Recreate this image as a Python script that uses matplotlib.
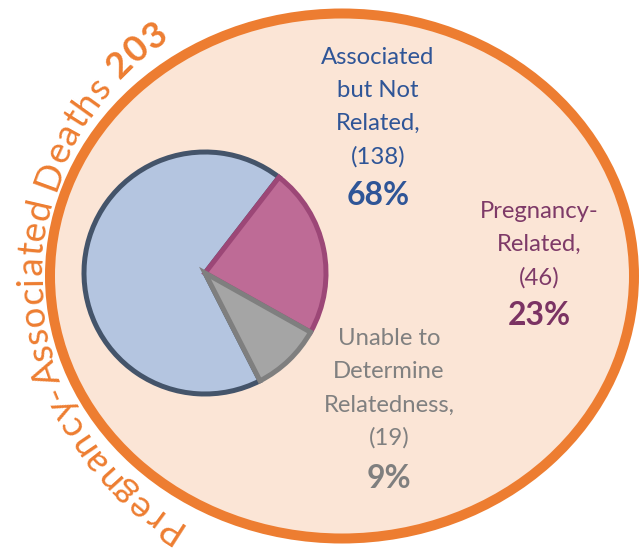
import numpy as np
import matplotlib
matplotlib.use("Agg")
import matplotlib.pyplot as plt
from matplotlib.patches import Ellipse
from matplotlib.font_manager import FontProperties

# ---------------- data ----------------
categories = ["Associated\nbut Not\nRelated,", "Pregnancy-\nRelated,", "Unable to\nDetermine\nRelatedness,"]
counts = [138, 46, 19]
percents = [68, 23, 9]
total_label = "Pregnancy-Associated Deaths"
total_value = 203

# ---------------- styles ----------------
FONT = "Lato"
fills = ["#B4C5E0", "#BE6B96", "#A5A5A5"]
edges = ["#44546A", "#9C4777", "#7F7F7F"]
label_colors = ["#2F5597", "#7E3A68", "#808080"]
pct_colors = ["#2F5597", "#7B3363", "#7F7F7F"]
ORANGE = "#ED7D31"
PEACH = "#FBE5D6"

W, H = 639, 553
fig = plt.figure(figsize=(W / 100, H / 100), dpi=100)
ax = fig.add_axes([0, 0, 1, 1])
renderer = fig.canvas.get_renderer()


def Y(y):
    return H - y


def text_width(s, fp):
    t = ax.text(0, 0, s, fontproperties=fp)
    w = t.get_window_extent(renderer).width
    t.remove()
    return w


def fit_size(s, target, weight="normal"):
    fp = FontProperties(family=FONT, weight=weight, size=20)
    return 20 * target / text_width(s, fp)


# outer ellipse
ax.add_patch(Ellipse((342, Y(276)), 584, 525, facecolor=PEACH, edgecolor=ORANGE,
                     lw=7.2, zorder=1))

# pie (clockwise from the top boundary: Pregnancy-Related, Unable, Associated)
order = [1, 2, 0]
wedges, _ = ax.pie([counts[i] for i in order], startangle=52.3, counterclock=False,
                   center=(205, Y(273)), radius=121, frame=True,
                   colors=[fills[i] for i in order],
                   wedgeprops=dict(linewidth=3.6, joinstyle="miter"))
zs = {0: 2, 1: 3, 2: 4}
for w, i in zip(wedges, order):
    w.set_edgecolor(edges[i])
    w.set_zorder(zs[i])

ax.set_xlim(0, W)
ax.set_ylim(0, H)
ax.set_aspect("equal")
ax.axis("off")

# labels (one text per line, fixed baseline pitch)
LINE = 33.3
lbl_pt = fit_size("Associated", 114)
pct_pt = fit_size("68%", 63, "bold")
fp_lbl = FontProperties(family=FONT, size=lbl_pt)

label_pos = [(378, 63.5, 205), (539, 218, 325), (389, 345, 488)]
for cat, n, p, (x, yb, yp), lc, pc in zip(categories, counts, percents, label_pos,
                                          label_colors, pct_colors):
    lines = cat.split("\n") + [f"({n})"]
    for k, line in enumerate(lines):
        ax.text(x, Y(yb + k * LINE), line, fontproperties=fp_lbl, color=lc,
                ha="center", va="baseline", zorder=10)
    ax.text(x, Y(yp), f"{p}%", family=FONT, weight="bold", size=pct_pt, color=pc,
            ha="center", va="baseline", zorder=10)

# curved title along the left arc
CURVE_PT = 26.5
fp_reg = FontProperties(family=FONT, size=CURVE_PT)
fp_bold = FontProperties(family=FONT, weight="bold", size=CURVE_PT)
chars = [(c, fp_reg) for c in total_label + " "] + [(c, fp_bold) for c in str(total_value)]
widths = []
for c, fp in chars:
    if c == " ":
        widths.append(text_width("n n", fp) - text_width("nn", fp))
    else:
        widths.append(text_width(c, fp))

cx, cy, r = 329, Y(277), 287
th0, th1 = np.radians(239.5), np.radians(123.7)
L = r * (th0 - th1)
gap = (L - sum(widths)) / (len(chars) - 1)
pos = 0.0
for (c, fp), w in zip(chars, widths):
    s = pos + w / 2
    th = th0 - s / r
    x = cx + r * np.cos(th)
    y = cy + r * np.sin(th)
    ax.text(x, y, c, fontproperties=fp, color=ORANGE, rotation=np.degrees(th) - 90,
            rotation_mode="anchor", ha="center", va="baseline", zorder=10)
    pos += w + gap

fig.savefig("out.png", dpi=100, facecolor="white")
